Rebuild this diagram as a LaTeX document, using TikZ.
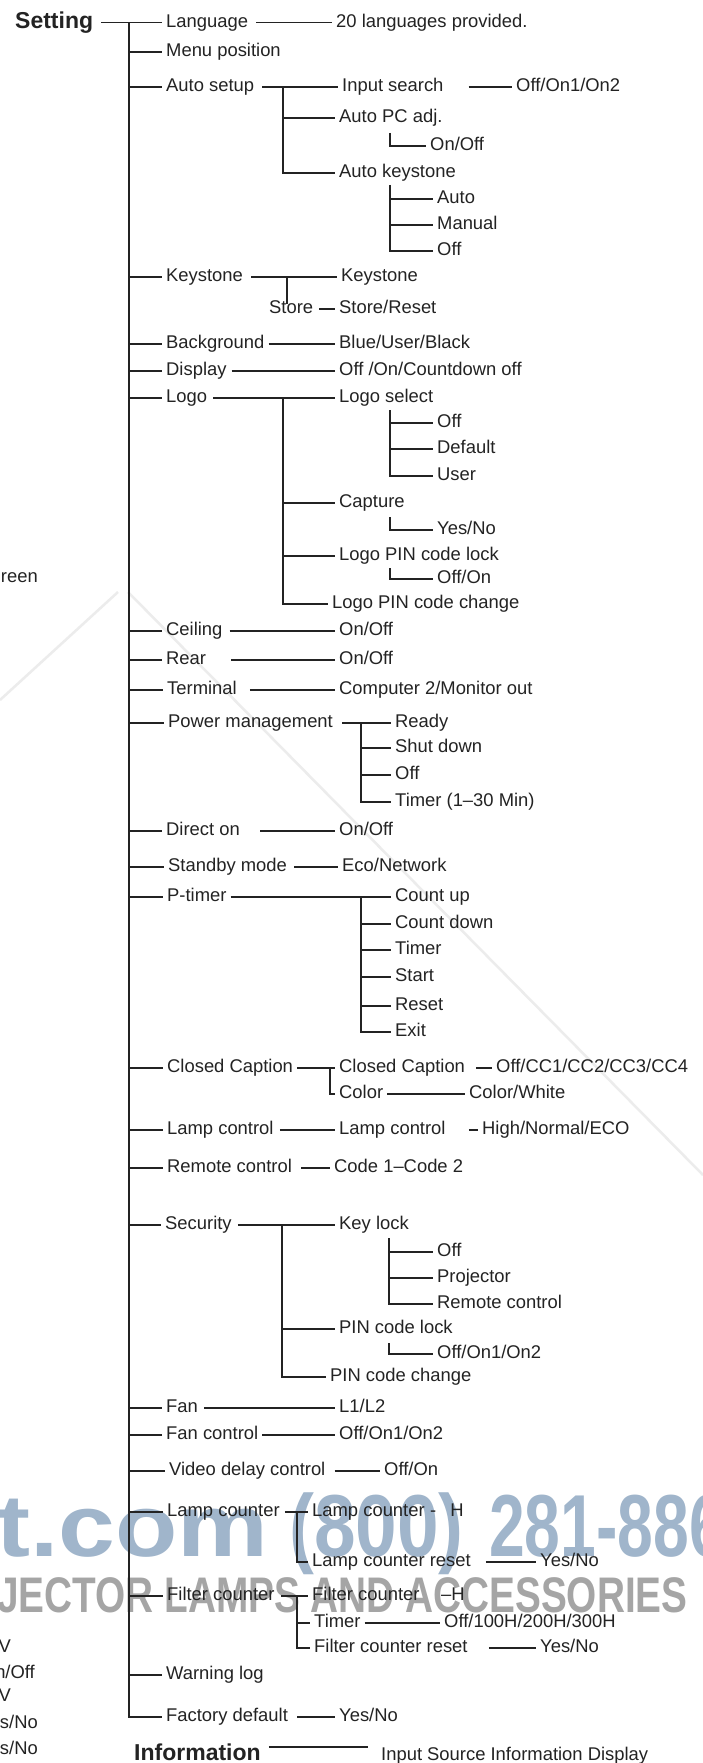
\documentclass[tikz,border=0pt]{standalone}
\usepackage{fontspec}
\setmainfont{Liberation Sans}
\usepackage{graphicx}
\usetikzlibrary{positioning}
\newcommand{\menufont}{\fontsize{18.4}{22}\selectfont}
\newcommand{\headfont}{\fontsize{23}{27}\selectfont\bfseries}
\definecolor{ink}{RGB}{35,35,35}
\definecolor{wmblue}{RGB}{160,181,203}
\definecolor{wmgrey}{RGB}{165,165,165}
\definecolor{wmfaint}{RGB}{236,236,236}

\begin{document}
\begin{tikzpicture}[x=1pt,y=-1pt,
    item/.style={anchor=west, inner xsep=4pt, inner ysep=0pt, text height=9pt,
                 text depth=0pt, font=\menufont, text=ink},
    head/.style={item, text height=11.2pt, font=\headfont},
    wire/.style={draw=ink, line width=1.3pt},
    wmark/.style={anchor=base west, inner sep=0pt, font=\fontsize{88}{88}\selectfont\bfseries}]
  \useasboundingbox (0,0) rectangle (703,1763);
  \clip (0,0) rectangle (703,1763);
  \fill[white] (0,0) rectangle (703,1763);
  % watermark
  \draw[wmfaint, line width=2.5pt] (0,700) -- (118,592);
  \draw[wmfaint, line width=2.5pt] (128,592) -- (703,1175);
  \node[wmark, text=wmblue] (wmsite) at (-4,1556) {\scalebox{1.16}[1]{t.com}};
  \node[wmark, text=wmblue] (wmphone) at (289,1556) {\scalebox{0.85}[1]{(800)}};
  \node[wmark, text=wmblue] (wmnumber) at (489,1556) {\scalebox{0.73}[1]{281-886}};
  \node[wmark, text=wmgrey, font=\fontsize{50}{50}\selectfont\bfseries] (wmlamps) at (-3,1612)
    {\scalebox{0.775}[1]{JECTOR LAMPS AND ACCESSORIES}};
  % cut-off column of the page beside
  \node[item, anchor=east] (fragA) at (42,578) {reen};
  \node[item, anchor=east] (fragB) at (15,1648) {V};
  \node[item, anchor=east] (fragC) at (39,1674) {n/Off};
  \node[item, anchor=east] (fragD) at (15,1697) {V};
  \node[item, anchor=east] (fragE) at (42,1724) {s/No};
  \node[item, anchor=east] (fragF) at (42,1750) {s/No};

  % Setting and first level
  \node[head] (setting) at (11,22.7) {Setting};
  \coordinate (trunk) at (129,22.7);
  \node[item] (language) at (162,22.7) {Language};
  \node[item] (menupos) at (162,52) {Menu position};
  \node[item] (autosetup) at (162,87) {Auto setup};
  \node[item] (keystone) at (162,277) {Keystone};
  \node[item] (background) at (162,344) {Background};
  \node[item] (display) at (162,371) {Display};
  \node[item] (logo) at (162,398) {Logo};
  \node[item] (ceiling) at (162,631) {Ceiling};
  \node[item] (rear) at (162,660) {Rear};
  \node[item] (terminal) at (163,690) {Terminal};
  \node[item] (powermgmt) at (164,723) {Power management};
  \node[item] (directon) at (162,831) {Direct on};
  \node[item] (standby) at (164,867) {Standby mode};
  \node[item] (ptimer) at (163,897) {P-timer};
  \node[item] (closedcap) at (163,1068) {Closed Caption};
  \node[item] (lampctl) at (163,1130) {Lamp control};
  \node[item] (remote) at (163,1168) {Remote control};
  \node[item] (security) at (161,1225) {Security};
  \node[item] (fan) at (162,1408) {Fan};
  \node[item] (fanctl) at (162,1435) {Fan control};
  \node[item] (videodelay) at (165,1471) {Video delay control};
  \node[item] (lampcnt) at (163,1512) {Lamp counter};
  \node[item] (filtercnt) at (163,1596) {Filter counter};
  \node[item] (warnlog) at (162,1675) {Warning log};
  \node[item] (factory) at (162,1717) {Factory default};
  \draw[wire] ([xshift=4pt]setting.east) -- (language.west);
  \draw[wire] (trunk) |- (factory.west);
  \foreach \n in {menupos,autosetup,keystone,background,display,logo,ceiling,rear,
                  terminal,powermgmt,directon,standby,ptimer,closedcap,lampctl,remote,
                  security,fan,fanctl,videodelay,lampcnt,filtercnt,warnlog}
    \draw[wire] (trunk |- \n.west) -- (\n.west);

  % Language
  \node[item] (langval) at (332,22.7) {20 languages provided.};
  \draw[wire] ([xshift=4pt]language.east) -- (langval.west);

  % Auto setup
  \node[item] (inputsearch) at (338,87) {Input search};
  \node[item] (inputval) at (512,87) {Off/On1/On2};
  \node[item] (autopc) at (335,118) {Auto PC adj.};
  \node[item] (autopcval) at (426,146) {On/Off};
  \node[item] (autokey) at (335,173) {Auto keystone};
  \node[item] (akauto) at (433,199) {Auto};
  \node[item] (akmanual) at (433,225) {Manual};
  \node[item] (akoff) at (433,251) {Off};
  \coordinate (asv) at (283,87);
  \coordinate (apv) at (390,133);
  \coordinate (akv) at (390,185);
  \draw[wire] ([xshift=4pt]autosetup.east) -- (inputsearch.west);
  \draw[wire] ([xshift=21pt]inputsearch.east) -- (inputval.west);
  \draw[wire] (asv) |- (autokey.west);
  \draw[wire] (asv |- autopc.west) -- (autopc.west);
  \draw[wire] (apv) |- (autopcval.west);
  \draw[wire] (akv) |- (akoff.west);
  \foreach \n in {akauto,akmanual}
    \draw[wire] (akv |- \n.west) -- (\n.west);

  % Keystone
  \node[item] (ksval) at (337,277) {Keystone};
  \node[item] (store) at (265,309) {Store};
  \node[item] (storeval) at (335,309) {Store/Reset};
  \coordinate (ksv) at (287,277);
  \draw[wire] ([xshift=4pt]keystone.east) -- (ksval.west);
  \draw[wire] (ksv) -- (ksv |- store.north);
  \draw[wire] ([xshift=2pt]store.east) -- (storeval.west);

  % Background, Display
  \node[item] (bgval) at (335,344) {Blue/User/Black};
  \node[item] (dispval) at (335,371) {Off /On/Countdown off};
  \draw[wire] (background.east) -- (bgval.west);
  \draw[wire] ([xshift=1pt]display.east) -- (dispval.west);

  % Logo
  \node[item] (logosel) at (335,398) {Logo select};
  \node[item] (lsoff) at (433,423) {Off};
  \node[item] (lsdefault) at (433,449) {Default};
  \node[item] (lsuser) at (433,476) {User};
  \node[item] (capture) at (335,503) {Capture};
  \node[item] (capval) at (433,530) {Yes/No};
  \node[item] (logopin) at (335,556) {Logo PIN code lock};
  \node[item] (logopinval) at (433,579) {Off/On};
  \node[item] (logopinchg) at (328,604) {Logo PIN code change};
  \coordinate (lgv) at (283,398);
  \coordinate (lsv) at (390,410);
  \coordinate (cpv) at (390,517);
  \coordinate (lpv) at (390,568);
  \draw[wire] ([xshift=2pt]logo.east) -- (logosel.west);
  \draw[wire] (lgv) |- (logopinchg.west);
  \foreach \n in {capture,logopin}
    \draw[wire] (lgv |- \n.west) -- (\n.west);
  \draw[wire] (lsv) |- (lsuser.west);
  \foreach \n in {lsoff,lsdefault}
    \draw[wire] (lsv |- \n.west) -- (\n.west);
  \draw[wire] (cpv) |- (capval.west);
  \draw[wire] (lpv) |- (logopinval.west);

  % Ceiling, Rear, Terminal
  \node[item] (ceilval) at (335,631) {On/Off};
  \node[item] (rearval) at (335,660) {On/Off};
  \node[item] (termval) at (335,690) {Computer 2/Monitor out};
  \draw[wire] ([xshift=3pt]ceiling.east) -- (ceilval.west);
  \draw[wire] ([xshift=21pt]rear.east) -- (rearval.west);
  \draw[wire] ([xshift=9pt]terminal.east) -- (termval.west);

  % Power management
  \node[item] (ready) at (391,723) {Ready};
  \node[item] (shutdown) at (391,748) {Shut down};
  \node[item] (pmoff) at (391,775) {Off};
  \node[item] (pmtimer) at (391,802) {Timer (1–30 Min)};
  \coordinate (pmv) at (361,723);
  \draw[wire] ([xshift=5pt]powermgmt.east) -- (ready.west);
  \draw[wire] (pmv) |- (pmtimer.west);
  \foreach \n in {shutdown,pmoff}
    \draw[wire] (pmv |- \n.west) -- (\n.west);

  % Direct on, Standby mode
  \node[item] (directval) at (335,831) {On/Off};
  \node[item] (standbyval) at (338,867) {Eco/Network};
  \draw[wire] ([xshift=16pt]directon.east) -- (directval.west);
  \draw[wire] ([xshift=3pt]standby.east) -- (standbyval.west);

  % P-timer
  \node[item] (countup) at (391,897) {Count up};
  \node[item] (countdown) at (391,924) {Count down};
  \node[item] (pttimer) at (391,950) {Timer};
  \node[item] (ptstart) at (391,977) {Start};
  \node[item] (ptreset) at (391,1006) {Reset};
  \node[item] (ptexit) at (391,1032) {Exit};
  \coordinate (ptv) at (361,897);
  \draw[wire] (ptimer.east) -- (countup.west);
  \draw[wire] (ptv) |- (ptexit.west);
  \foreach \n in {countdown,pttimer,ptstart,ptreset}
    \draw[wire] (ptv |- \n.west) -- (\n.west);

  % Closed Caption
  \node[item] (ccsub) at (335,1068) {Closed Caption};
  \node[item] (ccval) at (492,1068) {Off/CC1/CC2/CC3/CC4};
  \node[item] (cccolor) at (335,1094) {Color};
  \node[item] (colorval) at (465,1094) {Color/White};
  \coordinate (ccv) at (330,1068);
  \draw[wire] (closedcap.east) -- (ccsub.west);
  \draw[wire] (ccv) |- (cccolor.west);
  \draw[wire] ([xshift=7pt]ccsub.east) -- (ccval.west);
  \draw[wire] (cccolor.east) -- (colorval.west);

  % Lamp control, Remote control
  \node[item] (lampsub) at (335,1130) {Lamp control};
  \node[item] (lampval) at (478,1130) {High/Normal/ECO};
  \node[item] (remoteval) at (330,1168) {Code 1–Code 2};
  \draw[wire] ([xshift=2pt]lampctl.east) -- (lampsub.west);
  \draw[wire] ([xshift=19pt]lampsub.east) -- (lampval.west);
  \draw[wire] ([xshift=5pt]remote.east) -- (remoteval.west);

  % Security
  \node[item] (keylock) at (335,1225) {Key lock};
  \node[item] (kloff) at (433,1252) {Off};
  \node[item] (klproj) at (433,1278) {Projector};
  \node[item] (klremote) at (433,1304) {Remote control};
  \node[item] (pinlock) at (335,1329) {PIN code lock};
  \node[item] (pinval) at (433,1354) {Off/On1/On2};
  \node[item] (pinchg) at (326,1377) {PIN code change};
  \coordinate (secv) at (282,1225);
  \coordinate (klv) at (389,1238);
  \coordinate (plv) at (389,1343);
  \draw[wire] ([xshift=2pt]security.east) -- (keylock.west);
  \draw[wire] (secv) |- (pinchg.west);
  \draw[wire] (secv |- pinlock.west) -- (pinlock.west);
  \draw[wire] (klv) |- (klremote.west);
  \foreach \n in {kloff,klproj}
    \draw[wire] (klv |- \n.west) -- (\n.west);
  \draw[wire] (plv) |- (pinval.west);

  % Fan, Fan control, Video delay control
  \node[item] (fanval) at (335,1408) {L1/L2};
  \node[item] (fanctlval) at (335,1435) {Off/On1/On2};
  \node[item] (videoval) at (380,1471) {Off/On};
  \draw[wire] ([xshift=2pt]fan.east) -- (fanval.west);
  \draw[wire] (fanctl.east) -- (fanctlval.west);
  \draw[wire] ([xshift=5pt]videodelay.east) -- (videoval.west);

  % Lamp counter
  \node[item] (lampcntsub) at (308,1512) {Lamp counter};
  \node[item] (lampcnth) at (426,1512) {-\hspace{14pt}H};
  \node[item] (lampreset) at (308,1562) {Lamp counter reset};
  \node[item] (lampresetval) at (536,1562) {Yes/No};
  \coordinate (lcv) at (297,1512);
  \draw[wire] ([xshift=1pt]lampcnt.east) -- (lampcntsub.west);
  \draw[wire] (lcv) |- (lampreset.west);
  \draw[wire] ([xshift=11pt]lampreset.east) -- (lampresetval.west);

  % Filter counter
  \node[item] (filtersub) at (308,1596) {Filter counter};
  \node[item] (filterh) at (437,1596) {–H};
  \node[item] (fltimer) at (310,1623) {Timer};
  \node[item] (fltimerval) at (440,1623) {Off/100H/200H/300H};
  \node[item] (flreset) at (310,1648) {Filter counter reset};
  \node[item] (flresetval) at (536,1648) {Yes/No};
  \coordinate (fcv) at (297,1596);
  \draw[wire] ([xshift=2pt]filtercnt.east) -- (filtersub.west);
  \draw[wire] (fcv) |- (flreset.west);
  \draw[wire] (fcv |- fltimer.west) -- (fltimer.west);
  \draw[wire] (fltimer.east) -- (fltimerval.west);
  \draw[wire] ([xshift=17pt]flreset.east) -- (flresetval.west);

  % Factory default
  \node[item] (factoryval) at (335,1717) {Yes/No};
  \draw[wire] ([xshift=5pt]factory.east) -- (factoryval.west);

  % Information
  \node[head, anchor=base west] (info) at (130,1760) {Information};
  \node[item, anchor=base west] (infoval) at (377,1760) {Input Source Information Display};
  \coordinate (infoline) at ([xshift=4pt]info.east |- 0,1747);
  \draw[wire] (infoline) -- ([xshift=-9pt]infoval.west |- infoline);
\end{tikzpicture}
\end{document}
